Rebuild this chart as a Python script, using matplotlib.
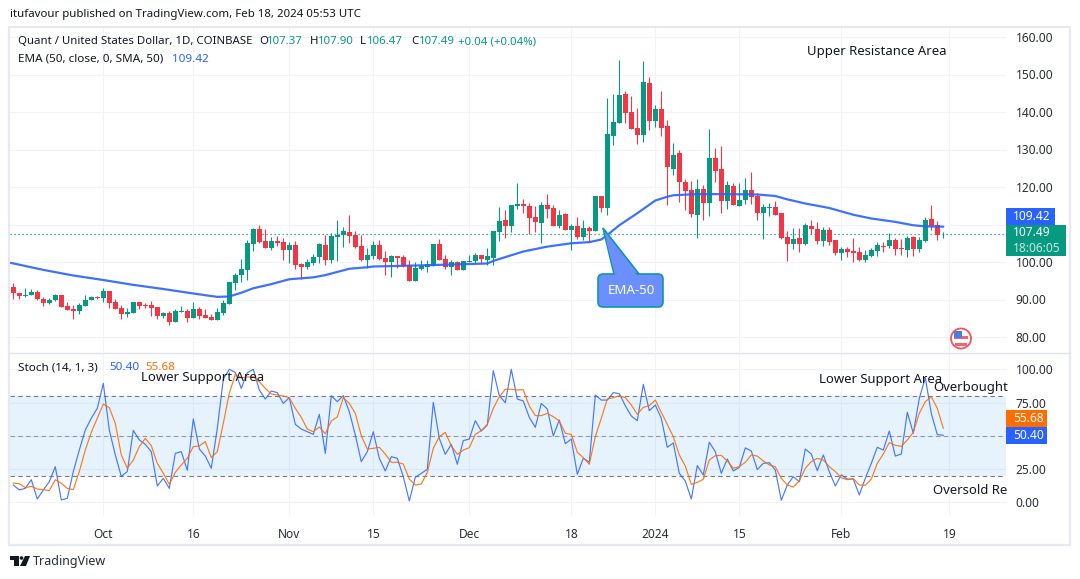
import numpy as np
import matplotlib
matplotlib.use('Agg')
import matplotlib.pyplot as plt
from matplotlib.patches import FancyBboxPatch, Polygon, Rectangle, Circle

plt.rcParams['font.family'] = ['Noto Sans', 'DejaVu Sans']

# days counted from Oct 1 2023
days = np.arange(-15, 141)

opens = [93.3, 91.7, 90.8, 91.2, 92.0, 90.1, 89.1, 89.9, 91.2, 88.3, 87.5, 86.9, 88.3, 89.9, 90.7,
         90.4, 92.3, 89.3, 87.7, 86.1, 86.4, 89.3, 88.5, 88.5, 88.0, 85.6, 86.4, 84.0, 86.7, 86.9,
         85.1, 87.5, 85.9, 85.3, 84.5, 86.4, 88.8, 94.4, 96.5, 97.9, 104.8, 108.8, 105.6, 103.7, 105.6,
         105.3, 103.2, 104.5, 99.5, 98.7, 99.7, 101.3, 104.5, 100.5, 106.7, 107.2, 108.0, 107.2, 104.3, 100.5,
         101.6, 104.5, 101.1, 100.0, 101.6, 101.3, 99.2, 94.9, 98.1, 98.7, 98.9, 104.8, 100.8, 98.7, 100.0,
         97.9, 100.0, 100.3, 101.9, 100.5, 101.1, 108.0, 111.2, 109.6, 114.9, 115.5, 114.9, 112.0, 110.4, 115.2,
         114.4, 109.6, 112.8, 108.5, 109.6, 106.7, 109.1, 108.3, 117.6, 114.4, 133.6, 137.1, 144.8, 140.0, 135.7,
         133.9, 147.7, 137.6, 140.8, 136.3, 124.8, 129.1, 121.3, 119.2, 112.5, 119.5, 115.7, 127.7, 124.8, 116.3,
         120.3, 114.9, 116.5, 119.2, 117.6, 113.1, 114.4, 114.7, 113.1, 106.7, 104.8, 106.4, 104.8, 109.6, 108.8,
         105.6, 108.5, 105.9, 102.4, 103.5, 102.9, 102.7, 100.5, 101.6, 102.9, 104.3, 104.3, 105.9, 103.7, 103.2,
         106.7, 103.5, 105.6, 111.5, 109.9, 107.37]
highs = [94.5, 91.8, 93.1, 92.9, 92.5, 90.7, 90.4, 91.5, 91.2, 89.3, 88.5, 89.1, 91.2, 90.9, 90.9,
         93.1, 92.3, 90.1, 88.5, 87.7, 89.3, 89.3, 89.1, 89.6, 88.0, 86.7, 86.9, 87.5, 88.3, 87.5,
         89.3, 88.0, 87.5, 86.1, 87.7, 89.9, 94.8, 97.1, 100.8, 105.9, 109.0, 109.9, 108.8, 106.7, 106.9,
         106.4, 105.3, 105.6, 99.7, 100.8, 102.1, 105.1, 107.2, 107.7, 111.2, 109.3, 112.5, 108.3, 107.2, 103.7,
         105.6, 105.9, 102.9, 101.9, 101.6, 101.9, 100.5, 100.0, 100.5, 100.5, 104.8, 106.1, 101.9, 100.5, 100.3,
         100.3, 101.9, 102.4, 101.9, 103.7, 108.3, 114.7, 113.9, 115.2, 121.1, 116.8, 115.7, 114.9, 116.0, 118.1,
         115.2, 113.9, 113.1, 110.1, 112.0, 111.2, 109.6, 117.6, 117.6, 143.7, 144.8, 153.9, 145.6, 144.3, 141.1,
         153.6, 149.3, 141.9, 145.6, 137.9, 131.7, 129.9, 122.1, 121.6, 122.1, 120.5, 135.5, 130.4, 130.9, 121.6,
         121.1, 121.1, 122.4, 124.0, 118.4, 115.5, 115.7, 116.3, 113.1, 108.3, 109.1, 109.1, 110.4, 111.2, 110.7,
         109.3, 109.3, 105.9, 104.0, 104.0, 106.4, 104.0, 103.2, 103.7, 105.3, 105.3, 107.7, 106.4, 106.1, 106.9,
         106.9, 106.7, 112.0, 115.2, 110.9, 107.90]
lows = [90.2, 90.1, 90.7, 91.1, 89.9, 88.3, 88.8, 89.6, 88.0, 87.2, 84.8, 86.1, 88.3, 89.9, 90.1,
        89.3, 87.7, 87.5, 84.8, 85.3, 86.4, 87.5, 87.7, 85.6, 84.8, 85.1, 83.2, 84.0, 86.7, 84.0,
        85.1, 84.8, 85.1, 84.5, 84.5, 85.9, 88.8, 92.5, 94.7, 95.2, 102.9, 105.1, 103.7, 103.2, 104.3,
        100.5, 99.7, 98.1, 95.5, 98.1, 99.2, 99.7, 99.2, 99.7, 100.3, 104.0, 105.1, 103.7, 100.3, 98.4,
        100.8, 100.5, 96.5, 96.0, 98.4, 98.7, 94.9, 94.9, 97.9, 97.3, 98.9, 100.5, 98.1, 96.5, 97.9,
        97.9, 100.0, 99.7, 99.7, 99.2, 99.2, 105.7, 106.4, 108.0, 114.1, 113.1, 107.5, 108.0, 105.1, 111.7,
        109.6, 109.1, 108.5, 103.2, 106.1, 105.9, 105.3, 108.3, 113.3, 112.5, 131.2, 137.1, 137.1, 135.5, 131.5,
        132.0, 135.2, 136.0, 133.6, 115.2, 123.2, 116.0, 113.9, 112.0, 106.4, 111.2, 112.3, 121.3, 113.1, 114.1,
        115.2, 114.9, 115.5, 115.5, 111.2, 106.1, 112.3, 112.5, 106.1, 100.3, 103.5, 102.7, 104.5, 107.5, 104.8,
        104.3, 104.5, 101.9, 100.5, 101.3, 100.0, 100.3, 100.0, 101.3, 101.6, 102.7, 103.7, 101.9, 101.9, 101.3,
        101.6, 102.7, 105.3, 108.5, 105.9, 106.47]
closes = [91.6, 90.9, 91.1, 92.0, 90.0, 89.1, 89.9, 91.2, 88.0, 87.2, 86.9, 88.5, 89.9, 90.7, 90.4,
          92.3, 89.1, 87.5, 86.1, 86.7, 89.3, 88.3, 88.3, 87.7, 85.6, 86.4, 84.0, 86.9, 86.9, 85.1,
          87.5, 85.6, 85.1, 84.5, 86.7, 89.1, 94.7, 96.5, 98.1, 105.1, 108.8, 105.3, 103.7, 105.6, 105.1,
          103.2, 104.5, 99.2, 98.7, 100.0, 101.3, 104.8, 100.5, 106.9, 107.2, 108.3, 106.9, 104.0, 100.5, 101.9,
          104.5, 100.8, 100.0, 101.6, 101.1, 98.9, 94.9, 98.4, 98.9, 99.5, 104.8, 100.5, 98.7, 100.0, 97.9,
          100.3, 100.3, 101.9, 100.8, 101.6, 108.3, 110.9, 109.6, 115.2, 115.5, 114.9, 111.7, 110.7, 115.2, 114.1,
          109.6, 112.5, 108.5, 109.6, 106.7, 109.1, 108.3, 117.6, 114.4, 134.1, 137.3, 144.5, 139.7, 135.5, 133.9,
          148.0, 137.6, 140.8, 135.7, 125.3, 128.5, 121.3, 118.9, 112.8, 119.5, 115.7, 127.7, 124.3, 116.3, 120.5,
          115.2, 116.5, 119.2, 117.3, 113.1, 114.7, 114.7, 112.5, 106.4, 104.8, 106.1, 104.8, 109.9, 108.8, 105.6,
          108.5, 105.3, 102.4, 103.5, 102.7, 102.4, 100.5, 101.9, 103.2, 104.5, 104.0, 105.9, 103.5, 103.5, 106.4,
          103.5, 105.9, 111.2, 109.6, 107.2, 107.49]

ema_days = [-15.5, -10, -5, 0, 5, 10, 15, 19, 21, 23, 25, 28, 31, 35, 37, 41, 44, 45, 53, 64, 65, 67, 68, 70, 74, 78,
            81, 83, 84, 86, 89, 92, 94, 95, 99, 104, 109, 112, 114, 117, 121, 125, 128, 132, 135, 137, 140]
ema_vals = [99.8, 97.9, 96.4, 95.2, 93.9, 92.8, 91.6, 90.7, 90.8, 91.8, 93.0, 94.1, 95.4, 95.9, 96.5, 98.2, 98.6,
            98.8, 99.1, 99.6, 100.3, 101.3, 101.8, 102.8, 104.1, 105.0, 105.3, 106.0, 107.2, 109.8, 113.0, 116.4,
            117.4, 117.8, 118.1, 118.1, 118.0, 117.6, 116.7, 115.6, 114.4, 112.6, 111.6, 110.7, 109.8, 109.5, 109.42]

stoch_k = [13.0, 9.3, 10.5, 17.0, 2.5, 9.3, 15.5, 26.8, 1.8, 3.0, 23.1, 39.3, 54.4, 63.2, 70.7,
           89.5, 54.4, 35.6, 19.5, 23.1, 54.1, 46.9, 43.6, 38.1, 12.3, 18.0, 10.5, 36.8, 38.1, 24.1,
           62.7, 40.1, 34.8, 25.6, 55.6, 92.7, 100.0, 97.7, 85.7, 97.5, 100.0, 84.5, 77.7, 83.7, 82.5,
           74.4, 78.7, 58.6, 55.1, 53.1, 51.1, 66.2, 36.8, 80.2, 75.7, 80.2, 68.2, 50.6,
           30.6, 38.1, 53.1, 33.1, 23.6, 34.3, 33.1, 19.3, 1.0, 18.8, 21.8, 24.8, 75.2, 48.1, 36.1,
           43.6, 28.6, 46.4, 47.6, 61.4, 53.6, 58.1, 99.0, 80.2, 74.9, 100.0, 77.7, 76.2, 63.9, 56.4,
           74.4, 70.2, 49.9, 61.9, 44.1, 47.6, 21.1, 33.1, 30.1, 80.7, 76.9, 76.9, 82.5, 81.7, 72.7,
           64.9, 61.4, 88.7, 68.9, 73.2, 63.2, 41.4, 44.6, 21.8, 16.0, 2.5, 27.6, 20.6, 45.1,
           38.1, 21.8, 32.6, 23.6, 26.3, 40.9, 38.6, 24.6, 29.3, 29.8, 24.3, 1.5, 13.0, 19.3, 15.5,
           40.1, 36.3, 23.8, 35.6, 23.1, 12.3, 20.6, 17.5, 17.5, 5.5, 18.0, 29.3, 41.4, 39.3, 53.6,
           34.8, 36.3, 67.7, 51.9, 78.2, 93.7, 66.9, 50.9, 50.40]
stoch_d = [14.5, 14.0, 11.0, 12.0, 10.0, 9.5, 8.8, 17.0, 14.3, 10.5, 9.5, 23.1, 39.3, 52.6, 63.2,
           73.9, 71.2, 59.4, 35.6, 25.6, 31.8, 41.9, 48.1, 42.6, 29.3, 21.8, 13.5, 22.6, 28.1, 33.1,
           41.9, 42.4, 45.6, 33.6, 38.1, 59.4, 82.0, 96.2, 93.7, 94.2, 94.5, 90.7, 85.7, 81.5, 80.7,
           80.0, 78.7, 70.7, 63.9, 55.1, 53.1, 56.6, 51.6, 61.2, 64.2, 78.7, 74.4, 66.9,
           50.1, 40.1, 40.6, 41.4, 36.3, 30.1, 30.1, 28.8, 17.5, 13.0, 13.8, 22.6, 40.6, 49.4, 52.6,
           42.6, 36.1, 39.3, 41.1, 51.1, 53.9, 58.6, 70.7, 79.4, 85.0, 85.0, 84.5, 84.7, 72.4, 65.2,
           65.2, 66.9, 64.4, 61.2, 51.9, 51.1, 37.6, 33.6, 28.6, 49.4, 63.2, 77.7, 78.7, 80.2, 78.7,
           73.2, 66.2, 71.4, 72.7, 76.9, 67.7, 58.6, 49.4, 35.6, 27.3, 13.5, 15.0, 17.3, 31.8,
           35.1, 35.3, 31.1, 25.6, 26.8, 30.1, 35.6, 34.8, 31.1, 28.1, 26.8, 18.0, 13.0, 11.5, 16.0,
           25.6, 30.6, 33.1, 31.8, 26.8, 23.1, 18.5, 17.0, 17.8, 13.0, 12.8, 17.5, 29.3, 36.3, 44.9,
           42.9, 42.1, 46.9, 52.6, 66.9, 75.7, 79.4, 70.7, 55.68]

x_tick_days = [0, 15, 31, 45, 61, 78, 92, 106, 123, 141]
x_tick_labels = ['Oct', '16', 'Nov', '15', 'Dec', '18', '2024', '15', 'Feb', '19']
price_ticks = [80, 90, 100, 110, 120, 130, 140, 150, 160]
stoch_ticks = [0, 25, 50, 75, 100]

GREEN = '#089981'
RED = '#f23645'
BLUE = '#2962ff'
ORANGE = '#ff6d00'
GRID = '#f0f3fa'
TEXT = '#131722'

W, H = 1080, 579
fig = plt.figure(figsize=(W / 100, H / 100), dpi=100, facecolor='white')


def pane(left, top, right, bottom):
    return fig.add_axes([left / W, 1 - bottom / H, (right - left) / W, (bottom - top) / H])


ax = pane(10, 28, 1006, 352)
ax2 = pane(10, 353, 1006, 516)
# overlay in pixel coordinates for the frame, price tags, callout and logo
top = fig.add_axes([0, 0, 1, 1], zorder=10)
top.set_xlim(0, W)
top.set_ylim(H, 0)
top.axis('off')

for a in (ax, ax2):
    a.set_xlim(-15.55, 150.45)
    a.set_xticks(x_tick_days)
    a.grid(True, color=GRID, lw=0.8)
    a.set_axisbelow(True)
    a.yaxis.tick_right()
    a.tick_params(length=0, labelsize=8.6, labelcolor='#2a2e39', pad=7)
    for s in a.spines.values():
        s.set_visible(False)

# candles
opens, highs, lows, closes = map(np.array, (opens, highs, lows, closes))
colors = [GREEN if c >= o else RED for o, c in zip(opens, closes)]
ax.vlines(days, lows, highs, colors=colors, lw=0.8, zorder=3)
ax.bar(days, np.maximum(np.abs(closes - opens), 0.15), bottom=np.minimum(opens, closes),
       width=0.8, color=colors, zorder=3)
ax.plot(ema_days, ema_vals, color=BLUE, lw=1.6, alpha=0.9, zorder=4, solid_capstyle='round')
ax.axhline(closes[-1], color=GREEN, lw=0.9, ls=(0, (1, 2.2)), zorder=2)
ax.set_ylim(76, 162.4)
ax.set_yticks(price_ticks)
# the 110 and 50 labels sit behind the price tags in the original
ax.set_yticklabels(['' if p == 110 else f'{p:.2f}' for p in price_ticks])
ax.tick_params(labelbottom=False)

# stochastic pane
ax2.axhspan(20, 80, color='#2196f3', alpha=0.11, lw=0, zorder=1)
ax2.axhline(80, color='#787b86', lw=0.8, ls=(0, (4, 3)), zorder=2)
ax2.axhline(50, color='#9598a1', lw=0.8, ls=(0, (4, 3)), zorder=2)
ax2.axhline(20, color='#787b86', lw=0.8, ls=(0, (4, 3)), zorder=2)
ax2.plot(days, stoch_k, color=BLUE, lw=0.85, alpha=0.85, zorder=3)
ax2.plot(days, stoch_d, color=ORANGE, lw=0.85, alpha=0.9, zorder=4)
ax2.set_ylim(-10.3, 112.3)
ax2.set_yticks(stoch_ticks)
ax2.set_yticklabels(['' if v == 50 else f'{v:.2f}' for v in stoch_ticks])
ax2.set_xticklabels(x_tick_labels)
ax2.get_xticklabels()[6].set_fontweight('bold')
ax2.tick_params(axis='x', pad=9)

# frame
top.add_patch(Rectangle((9, 27), 1061, 518, fc='none', ec='#e6e9f1', lw=1.6))
top.plot([10, 1070], [352.5, 352.5], color='#e0e3eb', lw=1)

# header texts
top.text(10, 14, 'itufavour published on TradingView.com, Feb 18, 2024 05:53 UTC', fontsize=8.25, color=TEXT, va='center')
top.text(18, 42, 'Quant / United States Dollar, 1D, COINBASE', fontsize=8.2, color=TEXT, va='center')
x_pos = [259, 267, 310, 318, 360, 367, 411, 419, 458]
parts = ['O', '107.37', 'H', '107.90', 'L', '106.47', 'C', '107.49', '+0.04 (+0.04%)']
cols = [TEXT, GREEN, TEXT, GREEN, TEXT, GREEN, TEXT, GREEN, GREEN]
for xp, part, col in zip(x_pos, parts, cols):
    top.text(xp, 42, part, fontsize=8.2, color=col, va='center')
top.text(18, 59, 'EMA (50, close, 0, SMA, 50)', fontsize=8.4, color=TEXT, va='center')
top.text(172, 59, '109.42', fontsize=8.4, color=BLUE, va='center')
top.text(18, 368, 'Stoch (14, 1, 3)', fontsize=8.4, color=TEXT, va='center')
top.text(109, 368, '50.40', fontsize=8.4, color=BLUE, va='center')
top.text(145, 368, '55.68', fontsize=8.4, color=ORANGE, va='center')

# drawn annotations
for xp, yp, s in [(807, 52, 'Upper Resistance Area'), (141, 378, 'Lower Support Area'),
                  (819, 380, 'Lower Support Area'), (933, 388, 'Overbought'), (933, 491, 'Oversold Re')]:
    top.text(xp, yp, s, fontsize=9.45, color=TEXT, va='center')

# price tags
tags = [(1006, 208, 49, 17, BLUE, '109.42', 216.5), (1006, 225, 60, 31, GREEN, '107.49', 233),
        (1006, 410, 41, 17, ORANGE, '55.68', 418.5), (1006, 427, 41, 17, BLUE, '50.40', 435.5)]
for xp, yp, w, h, col, s, ty in tags:
    top.add_patch(Rectangle((xp, yp), w, h, fc=col, ec='none'))
    top.text(1013, ty, s, fontsize=8.6, color='white', va='center', fontweight='bold')
top.text(1013, 248, '18:06:05', fontsize=8.6, color='#c5e8e0', va='center')

# EMA-50 callout
top.add_patch(Polygon([(603, 228), (614, 274), (639, 274)], fc='#6c8fff', ec='#0e97a8', lw=1.2, zorder=2))
top.add_patch(FancyBboxPatch((602, 278), 57, 25, boxstyle='round,pad=4,rounding_size=5', fc='#6c8fff',
                             ec='#0e97a8', lw=1.2, zorder=3))
top.add_patch(Polygon([(606, 240), (615.5, 276), (637.5, 276)], fc='#6c8fff', ec='none', zorder=4))
top.text(631, 291, 'EMA-50', fontsize=9.6, color='white', ha='center', va='center', zorder=5)

# flag icon
top.add_patch(Circle((961, 338.5), 10, fc='white', ec='#f4525f', lw=1.3))
top.add_patch(Rectangle((954, 336), 14, 3, fc='#f4626e', ec='none'))
top.add_patch(Rectangle((955, 343), 12, 2.5, fc='#f4626e', ec='none'))
top.add_patch(Rectangle((953.5, 331), 8, 7, fc='#4a7fe0', ec='none'))

# logo
top.add_patch(Polygon([(10, 556), (19, 556), (19, 566), (14, 566), (14, 560), (10, 560)], fc=TEXT, ec='none'))
top.add_patch(Circle((21.5, 558), 1.8, fc=TEXT, ec='none'))
top.add_patch(Polygon([(25, 556), (30, 556), (26, 566), (20, 566)], fc=TEXT, ec='none'))
top.text(33, 561, 'TradingView', fontsize=9, color='#2a2e39', va='center')

fig.savefig('out.png', dpi=100)
